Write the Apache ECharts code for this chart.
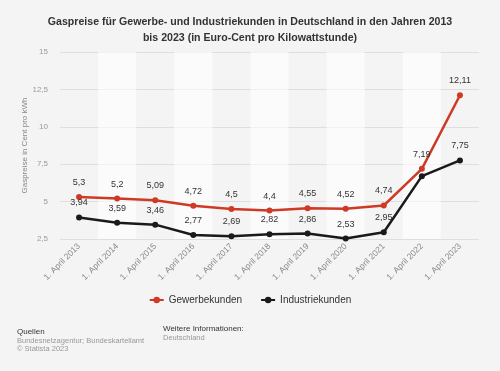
<!DOCTYPE html>
<html><head><meta charset="utf-8">
<script src="https://cdn.jsdelivr.net/npm/echarts@6/dist/echarts.min.js"></script>
<style>html,body{margin:0;padding:0;background:#f4f4f4}#c{width:500px;height:371px}</style>
</head><body><div id="c"></div>
<script>
var categories = ['1. April 2013','1. April 2014','1. April 2015','1. April 2016','1. April 2017','1. April 2018','1. April 2019','1. April 2020','1. April 2021','1. April 2022','1. April 2023'];
var gewerbe = [5.3, 5.2, 5.09, 4.72, 4.5, 4.4, 4.55, 4.52, 4.74, 7.19, 12.11];
var industrie = [3.94, 3.59, 3.46, 2.77, 2.69, 2.82, 2.86, 2.53, 2.95, 6.7, 7.75];
var hiddenIndustrieLabels = ['1. April 2022'];
var yTicks = [2.5, 5, 7.5, 10, 12.5, 15];

var font = '"Liberation Sans", Arial, sans-serif';
function fmt(v){ return String(v).replace('.', ','); }
var chart = echarts.init(document.getElementById('c'), null, {renderer:'canvas'});
var lbl = {show:true, position:'top', distance:7, fontFamily:font, fontSize:9, color:'#333', formatter:function(p){return fmt(p.value);}};
var indData = industrie.map(function(v,i){
  return hiddenIndustrieLabels.indexOf(categories[i]) >= 0 ? {value:v, label:{show:false}} : v;
});
chart.setOption({
  backgroundColor:'#f4f4f4',
  animation:false,
  title:{text:'Gaspreise für Gewerbe- und Industriekunden in Deutschland in den Jahren 2013\nbis 2023 (in Euro-Cent pro Kilowattstunde)', left:'center', top:9,
    textStyle:{fontFamily:font, fontSize:10.6, fontWeight:'bold', color:'#333', lineHeight:16}},
  grid:{left:60, right:21, top:52, bottom:132},
  xAxis:{type:'category', data:categories, boundaryGap:true,
    axisLine:{show:false}, axisTick:{show:false},
    axisLabel:{rotate:45, fontFamily:font, fontSize:8.5, color:'#888', margin:6, interval:0},
    splitArea:{show:true, areaStyle:{color:['rgba(0,0,0,0)','rgba(255,255,255,0.6)']}}},
  yAxis:{type:'value', min:yTicks[0], max:yTicks[yTicks.length-1], interval:2.5,
    name:'Gaspreise in Cent pro kWh', nameLocation:'middle', nameGap:31, nameMoveOverlap:false,
    nameTextStyle:{fontFamily:font, fontSize:8, color:'#888'},
    axisLine:{show:false}, axisTick:{show:false},
    axisLabel:{fontFamily:font, fontSize:8, color:'#999', margin:12, formatter:function(v){return fmt(v);}},
    splitLine:{lineStyle:{color:'#dedede', width:1}}},
  legend:{bottom:61, left:'center', itemWidth:14, itemHeight:8, itemGap:18,
    textStyle:{fontFamily:font, fontSize:10, color:'#333'},
    data:['Gewerbekunden','Industriekunden']},
  series:[
    {name:'Gewerbekunden', type:'line', data:gewerbe, symbol:'circle', symbolSize:6,
     lineStyle:{color:'#cf3a26', width:2.5}, itemStyle:{color:'#cf3a26'}, label:lbl},
    {name:'Industriekunden', type:'line', data:indData, symbol:'circle', symbolSize:6,
     lineStyle:{color:'#1a1a1a', width:2.5}, itemStyle:{color:'#1a1a1a'}, label:lbl}
  ],
  graphic:[
    {type:'text', left:17, top:328, style:{text:'Quellen', fontFamily:font, fontSize:8, fill:'#333'}},
    {type:'text', left:17, top:337, style:{text:'Bundesnetzagentur; Bundeskartellamt', fontFamily:font, fontSize:7.5, fill:'#999'}},
    {type:'text', left:17, top:345, style:{text:'© Statista 2023', fontFamily:font, fontSize:7.5, fill:'#999'}},
    {type:'text', left:163, top:325, style:{text:'Weitere Informationen:', fontFamily:font, fontSize:8, fill:'#333'}},
    {type:'text', left:163, top:334, style:{text:'Deutschland', fontFamily:font, fontSize:7.5, fill:'#999'}}
  ]
});
</script></body></html>
